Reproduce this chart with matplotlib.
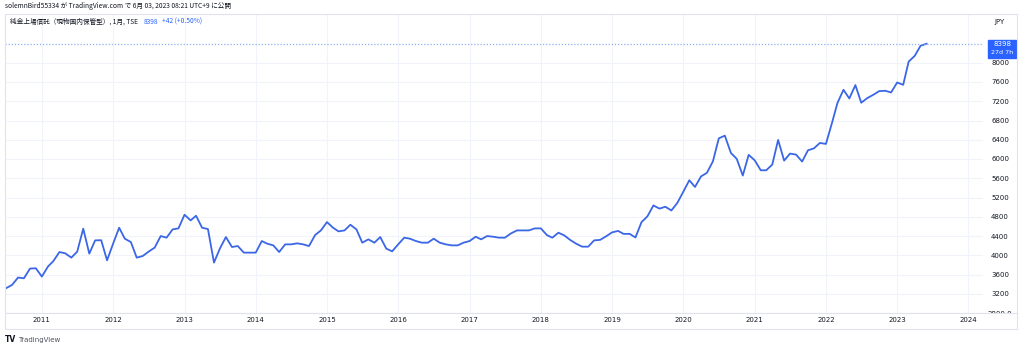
import numpy as np
import pandas as pd
import matplotlib
matplotlib.use("Agg")
import matplotlib.pyplot as plt
import matplotlib.dates as mdates
from matplotlib.patches import Rectangle
from matplotlib.lines import Line2D

# monthly closes, Jul 2010 .. Jun 2023
start_month = "2010-07-01"
closes = [
    3315, 3383, 3537, 3522, 3723, 3730,
    3557, 3765, 3881, 4068, 4040, 3951, 4076, 4553, 4034, 4310, 4313, 3895,
    4241, 4573, 4345, 4275, 3951, 3985, 4076, 4159, 4400, 4366, 4538, 4559,
    4843, 4725, 4822, 4573, 4545, 3848, 4138, 4379, 4172, 4192, 4055, 4055,
    4055, 4296, 4241, 4206, 4068, 4227, 4227, 4248, 4227, 4192, 4420, 4517,
    4690, 4573, 4497, 4517, 4635, 4538, 4262, 4331, 4262, 4379, 4138, 4082,
    4227, 4366, 4345, 4296, 4262, 4262, 4345, 4262, 4227, 4206, 4206, 4262,
    4296, 4386, 4331, 4400, 4386, 4366, 4366, 4455, 4517, 4517, 4517, 4559,
    4559, 4420, 4366, 4469, 4414, 4317, 4241, 4179, 4179, 4310, 4320, 4393,
    4476, 4506, 4445, 4445, 4370, 4690, 4808, 5036, 4970, 5009, 4932, 5085,
    5320, 5560, 5420, 5640, 5713, 5954, 6431, 6487, 6128, 6004, 5657, 6087,
    5975, 5767, 5767, 5885, 6398, 5968, 6114, 6093, 5948, 6182, 6224, 6335,
    6315, 6750, 7165, 7440, 7260, 7538, 7171, 7268, 7337, 7413, 7420, 7385,
    7592, 7544, 8027, 8145, 8356, 8398,
]
price_ticks = list(range(2800, 8001, 400))
years = list(range(2011, 2025))
last_price = 8398
change_text = "+42 (+0.50%)"
countdown = "27d 7h"

dates = pd.date_range(start_month, periods=len(closes), freq="MS")

W, H = 1024, 349
def fx(px): return px / W
def fy(py): return 1 - py / H

line_col = "#3b66e6"
grid_col = "#f0f3fa"
border_col = "#e0e3eb"
text_col = "#131722"
jp = ["Noto Sans CJK JP", "DejaVu Sans"]

fig = plt.figure(figsize=(10.24, 3.49), dpi=100)
fig.patch.set_facecolor("white")

ymin, ymax = 2815, 9016
xmin, xmax = pd.Timestamp("2010-06-26"), pd.Timestamp("2024-03-16")

ax = fig.add_axes([fx(5), fy(313), fx(983) - fx(5), fy(14) - fy(313)])
ax.plot(dates, closes, color=line_col, lw=1.3, solid_joinstyle="round")
ax.axhline(last_price, color="#8fb0f5", lw=0.9, ls=(0, (1, 1.5)))
ax.set_xlim(xmin, xmax)
ax.set_ylim(ymin, ymax)
ax.set_yticks(price_ticks)
ax.set_xticks([pd.Timestamp(f"{y}-01-01") for y in years])
ax.set_xticklabels([str(y) for y in years])
ax.grid(color=grid_col, lw=0.8)
ax.tick_params(length=0, labelleft=False, pad=3, labelsize=5, labelcolor=text_col)
for s in ax.spines.values():
    s.set_visible(False)

# price scale
axp = fig.add_axes([fx(983), fy(313), fx(1017) - fx(983), fy(14) - fy(313)])
axp.set_xlim(0, 1)
axp.set_ylim(ymin, ymax)
axp.axis("off")
for t in price_ticks:
    lab = f"{t}.0" if t == 2800 else str(t)
    axp.text(0.5, t, lab, ha="center", va="center", fontsize=5,
             color=text_col, clip_on=True)
axp.add_patch(Rectangle((0.14, last_price - 290), 0.84, 360,
                        color="#2962ff", zorder=3))
axp.text(0.56, last_price - 10, str(last_price), ha="center", va="center",
         fontsize=5, color="white", zorder=4)
axp.text(0.56, last_price - 190, countdown, ha="center", va="center",
         fontsize=4.6, color="white", zorder=4)

# frame lines
fig.add_artist(Rectangle((fx(5), fy(329)), fx(1017) - fx(5), fy(14) - fy(329),
                         fill=False, ec=border_col, lw=0.8,
                         transform=fig.transFigure))
fig.add_artist(Line2D([fx(5), fx(1017)], [fy(313), fy(313)],
                      color=border_col, lw=0.8))

# header texts
fig.text(fx(5), fy(6), "solemnBird55334 が TradingView.com で 6月 03, 2023 08:21 UTC+9 に公開",
         fontsize=4.8, color=text_col, family=jp, va="center")
fig.text(fx(10), fy(22), "純金上場信託（現物国内保管型）, 1月, TSE",
         fontsize=4.8, color=text_col, family=jp, va="center")
fig.text(fx(144), fy(22), str(last_price), fontsize=4.8, color="#2962ff",
         family=jp, va="center")
fig.text(fx(162), fy(22), change_text, fontsize=4.8, color="#2962ff",
         family=jp, va="center")
fig.text(fx(1000), fy(22), "JPY", fontsize=5, color=text_col, ha="center",
         va="center")

# footer logo
fig.text(fx(5), fy(340), "TV", fontsize=5.5, weight="bold", color=text_col,
         va="center")
fig.text(fx(18), fy(340), "TradingView", fontsize=5, color="#50535e",
         va="center")

fig.savefig("out.png", dpi=100)
